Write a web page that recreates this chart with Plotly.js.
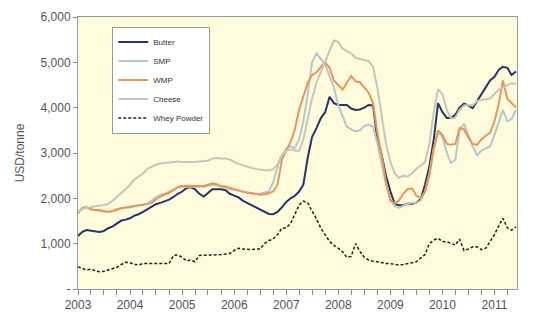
<!DOCTYPE html>
<html>
<head>
<meta charset="utf-8">
<script src="https://cdn.plot.ly/plotly-3.0.1.min.js"></script>
<style>html,body{margin:0;padding:0;background:#fff;}#chart{width:550px;height:321px;}</style>
</head>
<body>
<div id="chart"></div>
<script>
// Monthly observations, Jan 2003 .. Jun 2011 (USD/tonne)
const startYear = 2003;
const nMonths = 102;
const months = [];
for (let i = 0; i < nMonths; i++) {
  const y = startYear + Math.floor(i / 12);
  const m = (i % 12) + 1;
  months.push(y + '-' + (m < 10 ? '0' + m : m) + '-01');
}

const butter = [
  1170,1260,1300,1290,1270,1260,1280,1340,1380,1440,1510,1530,
  1560,1620,1650,1700,1760,1820,1870,1900,1940,1970,2030,2100,
  2150,2230,2250,2200,2100,2040,2120,2200,2200,2200,2180,2100,
  2060,2020,1950,1900,1850,1800,1760,1700,1655,1650,1700,1800,
  1920,2000,2050,2150,2300,2900,3350,3550,3770,3900,4240,4100,
  4060,4060,4060,3980,3950,3960,4000,4060,4050,3300,2950,2500,
  2150,1870,1850,1850,1880,1880,1900,1980,2300,2700,3300,4100,
  3900,3770,3770,3840,4000,4090,4050,3990,4150,4300,4470,4600,
  4680,4840,4900,4880,4720,4800
];
const smp = [
  1700,1790,1810,1760,1740,1720,1710,1700,1720,1740,1780,1800,
  1800,1820,1840,1860,1880,1950,2030,2080,2100,2150,2200,2240,
  2250,2260,2260,2250,2260,2250,2270,2300,2280,2260,2240,2200,
  2190,2170,2150,2130,2110,2100,2100,2120,2150,2350,2700,2950,
  3100,3150,3100,3300,3700,4300,5000,5200,5080,4950,4700,4450,
  4060,3800,3580,3520,3480,3500,3600,3620,3580,3220,2780,2300,
  1980,1830,1790,1830,1880,1900,1900,1950,2150,2550,3100,3450,
  3350,3000,2780,2850,3500,3650,3400,3150,2950,3050,3100,3150,
  3400,3700,3950,3700,3750,3950
];
const wmp = [
  1670,1790,1800,1760,1740,1740,1720,1700,1720,1760,1780,1800,
  1820,1830,1850,1860,1880,1900,1980,2040,2080,2120,2180,2250,
  2270,2280,2280,2270,2270,2280,2300,2330,2310,2270,2260,2230,
  2200,2180,2150,2120,2110,2090,2080,2090,2110,2150,2300,2850,
  3050,3250,3500,3950,4250,4550,4720,4780,4900,5000,4880,4600,
  4500,4400,4550,4700,4580,4560,4450,4330,4100,3450,2950,2350,
  1950,1880,1950,2100,2200,2220,2060,2000,2150,2500,3100,3500,
  3400,3200,3180,3200,3550,3520,3350,3200,3180,3300,3380,3450,
  3700,4100,4600,4200,4100,4000
];
const cheese = [
  1700,1760,1790,1810,1820,1840,1850,1880,1950,2030,2100,2200,
  2300,2420,2480,2550,2650,2700,2740,2770,2780,2800,2810,2810,
  2800,2800,2790,2800,2810,2820,2830,2880,2890,2880,2880,2860,
  2800,2760,2730,2700,2670,2650,2630,2620,2620,2640,2750,2950,
  3050,3080,3050,3050,3300,3800,4200,4550,4800,5000,5250,5480,
  5450,5300,5250,5200,5100,5070,5050,5030,4900,4450,3850,3200,
  2800,2550,2450,2500,2480,2550,2650,2720,2800,3200,3900,4400,
  4300,3950,3760,3780,3950,4050,4060,4050,4150,4170,4180,4200,
  4300,4400,4450,4500,4540,4520
];
const whey = [
  490,450,420,440,400,380,390,420,450,480,540,590,
  580,540,530,560,565,560,560,565,565,560,740,750,
  700,620,640,600,740,750,750,750,750,760,770,785,
  850,900,880,870,870,880,880,1000,1070,1100,1200,1340,
  1350,1450,1650,1850,1940,1900,1720,1550,1340,1200,1050,960,
  900,820,700,720,1000,830,700,640,610,600,580,565,
  560,540,530,540,560,580,600,680,760,1000,1080,1120,
  1050,1040,1000,970,1100,850,880,930,930,870,900,1050,
  1200,1400,1560,1350,1300,1370
];

const yTickVals = [0,1000,2000,3000,4000,5000,6000];
const yTickText = ['-','1,000','2,000','3,000','4,000','5,000','6,000'];
const xTickVals = ['2003-01-01','2004-01-01','2005-01-01','2006-01-01','2007-01-01','2008-01-01','2009-01-01','2010-01-01','2011-01-01'];
const xTickText = ['2003','2004','2005','2006','2007','2008','2009','2010','2011'];
const seriesNames = ['Butter','SMP','WMP','Cheese','Whey Powder'];

const traces = [
  {x: months, y: butter, name: seriesNames[0], type: 'scatter', mode: 'lines',
   line: {color: '#27336B', width: 2}},
  {x: months, y: smp, name: seriesNames[1], type: 'scatter', mode: 'lines',
   line: {color: '#B3C9CB', width: 2}},
  {x: months, y: wmp, name: seriesNames[2], type: 'scatter', mode: 'lines',
   line: {color: '#E8955A', width: 2}},
  {x: months, y: cheese, name: seriesNames[3], type: 'scatter', mode: 'lines',
   line: {color: '#C6C7BA', width: 2}},
  {x: months, y: whey, name: seriesNames[4], type: 'scatter', mode: 'lines',
   line: {color: '#222222', width: 1.5, dash: '3px,2px'}}
];

const layout = {
  width: 550, height: 321,
  margin: {l: 78, r: 33, t: 17, b: 32},
  paper_bgcolor: '#ffffff',
  plot_bgcolor: '#FFFBDD',
  font: {family: 'Liberation Sans, Arial, sans-serif', size: 12, color: '#555555'},
  showlegend: true,
  legend: {
    x: 0.078, y: 0.965, xanchor: 'left', yanchor: 'top',
    bgcolor: '#ffffff', bordercolor: '#9a9a9a', borderwidth: 1,
    font: {size: 8, color: '#333333'},
    itemwidth: 30
  },
  xaxis: {
    type: 'date',
    range: ['2003-01-01', '2011-06-08'],
    tickvals: xTickVals,
    ticktext: xTickText,
    ticks: 'outside', ticklen: 5, tickcolor: '#888888',
    minor: {dtick: 'M3', tick0: '2003-01-01', ticks: 'outside', ticklen: 5, tickcolor: '#888888', showgrid: false},
    showline: true, linecolor: '#9a9a9a', linewidth: 1, mirror: true,
    showgrid: false, zeroline: false,
    tickfont: {size: 12, color: '#555555'}
  },
  yaxis: {
    range: [0, 6000],
    tickvals: yTickVals, ticktext: yTickText,
    ticks: 'outside', ticklen: 4, tickcolor: '#888888',
    showline: true, linecolor: '#9a9a9a', linewidth: 1, mirror: true,
    showgrid: false, zeroline: false,
    tickfont: {size: 12, color: '#555555'},
    title: {text: 'USD/tonne', font: {size: 12, color: '#555555'}, standoff: 13}
  }
};

Plotly.newPlot('chart', traces, layout, {displayModeBar: false, staticPlot: true});
</script>
</body>
</html>
